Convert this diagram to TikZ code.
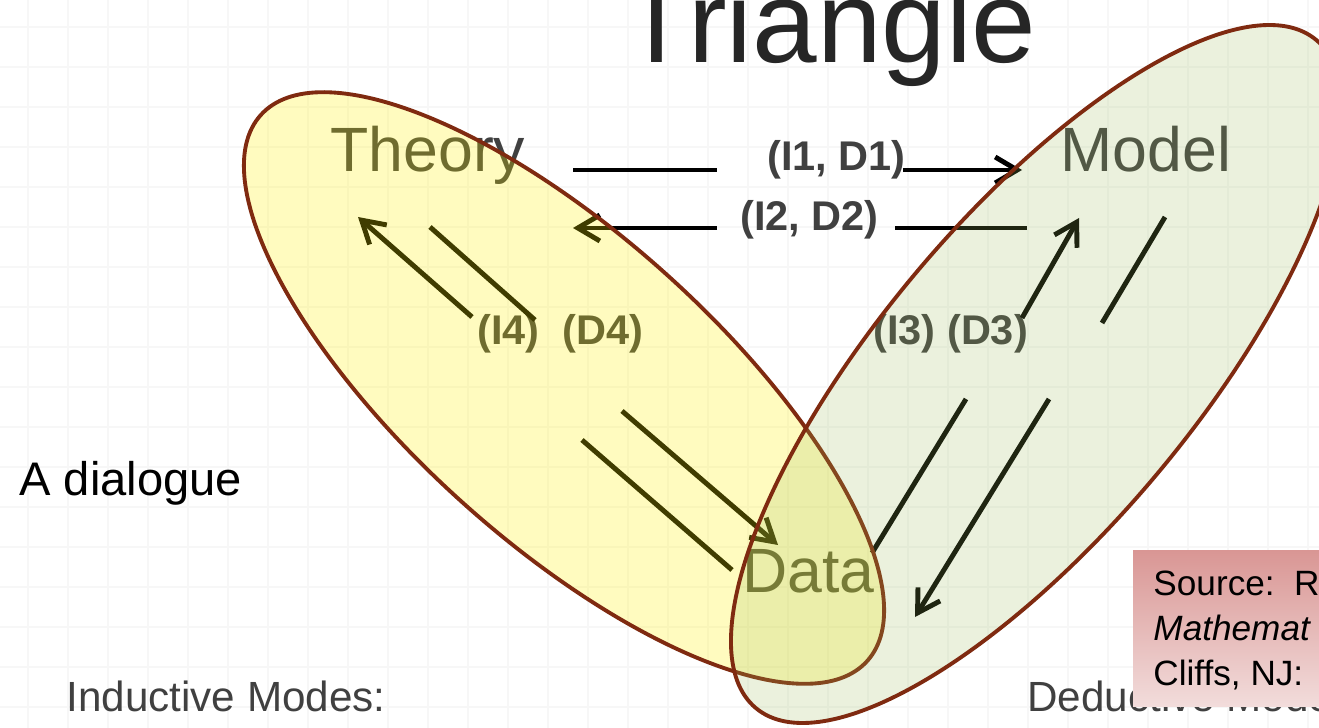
\documentclass[tikz,border=0pt]{standalone}
\usepackage{fontspec}
\setmainfont{Liberation Sans}
\usetikzlibrary{arrows.meta}
\definecolor{txtgray}{HTML}{404040}
\definecolor{titlegray}{HTML}{262626}
\definecolor{rim}{HTML}{7F2A10}
\definecolor{olivegreen}{HTML}{9BBB59}
\definecolor{boxtop}{HTML}{D99694}
\definecolor{boxbottom}{HTML}{F2DCDB}

\begin{document}
\begin{tikzpicture}[x=0.01cm, y=-0.01cm, >={Straight Barb[length=2.2mm, width=2.6mm]}, line width=1.4pt,
  lbl/.style={inner sep=0pt, anchor=base west, text=txtgray},
  corner/.style={lbl, font=\fontsize{17.8}{20}\selectfont},
  mode/.style={lbl, font=\fontsize{11.8}{14}\selectfont\bfseries},
  plain/.style={lbl, font=\fontsize{12}{14}\selectfont},
  srcline/.style={inner sep=0pt, anchor=base west, font=\fontsize{10}{12}\selectfont},
  blob/.style={draw=rim, line width=1.1pt}]
  \clip (0,0) rectangle (1319,728);
  \fill[white] (0,0) rectangle (1319,728);
  % faint grid
  \foreach \x in {28,68,...,1308} \draw[black!3, line width=0.6pt] (\x,0) -- (\x,728);
  \foreach \y in {27,67,...,707} \draw[black!3, line width=0.6pt] (0,\y) -- (1319,\y);
  % title
  \node[lbl, text=titlegray, font=\fontsize{33}{38}\selectfont] (title) at (619,63) {Triangle};
  % corners
  \node[corner] (theory) at (328,172) {Theory};
  \node[corner] (model) at (1058,172) {Model};
  \node[corner] (data) at (740,592) {Data};
  % mode labels
  \node[mode] (id1) at (765,171) {(I1, D1)};
  \node[mode] (id2) at (738,231) {(I2, D2)};
  \node[mode] (id4) at (475,345) {(I4)\ \ (D4)};
  \node[mode] (id3) at (871,345) {(I3) (D3)};
  % arrow ends
  \coordinate (tm1) at (573,170);  \coordinate (tm2) at (717,170);
  \coordinate (tm3) at (903,170);  \coordinate (tm4) at (1022,170);
  \coordinate (mt1) at (1027,228); \coordinate (mt2) at (895,228);
  \coordinate (mt3) at (717,228);  \coordinate (mt4) at (573,228);
  \coordinate (dt1) at (732,570);  \coordinate (dt2) at (582,440);
  \coordinate (dt3) at (472,317);  \coordinate (dt4) at (358,217);
  \coordinate (td1) at (430,227);  \coordinate (td2) at (535,320);
  \coordinate (td3) at (622,411);  \coordinate (td4) at (778,545);
  \coordinate (dm1) at (872,553);  \coordinate (dm2) at (966,399);
  \coordinate (dm3) at (1022,318); \coordinate (dm4) at (1079,218);
  \coordinate (md1) at (1165,217); \coordinate (md2) at (1102,323);
  \coordinate (md3) at (1049,399); \coordinate (md4) at (915,617);
  % theory <-> model
  \draw (tm1) -- (tm2);  \draw[->] (tm3) -- (tm4);
  \draw (mt1) -- (mt2);  \draw[->] (mt3) -- (mt4);
  % theory <-> data
  \draw (dt1) -- (dt2);  \draw[->] (dt3) -- (dt4);
  \draw (td1) -- (td2);  \draw[->] (td3) -- (td4);
  % model <-> data
  \draw (dm1) -- (dm2);  \draw[->] (dm3) -- (dm4);
  \draw (md1) -- (md2);  \draw[->] (md3) -- (md4);
  % the two ellipses
  \draw[blob, fill=yellow, fill opacity=0.25, rotate around={-42:(564,388)}]
    (564,388) ellipse [x radius=408, y radius=153];
  \draw[blob, fill=olivegreen, fill opacity=0.2, rotate around={50:(1036,374)}]
    (1036,374) ellipse [x radius=436, y radius=157];
  % side texts
  \node[inner sep=0pt, anchor=base west, font=\fontsize{13.4}{16}\selectfont] (dialogue) at (17,495) {A dialogue};
  \node[plain] (induct) at (64,711) {Inductive Modes:};
  \node[plain] (deduct) at (1025,711) {Deductive Modes:};
  % source box
  \shade[top color=boxtop, bottom color=boxbottom] (1133,550) rectangle (1330,706);
  \node[srcline] (src1) at (1151,595) {Source:\ \ R};
  \node[srcline] (src2) at (1151,640) {\itshape Mathemat};
  \node[srcline] (src3) at (1151,685) {Cliffs, NJ:};
\end{tikzpicture}
\end{document}
